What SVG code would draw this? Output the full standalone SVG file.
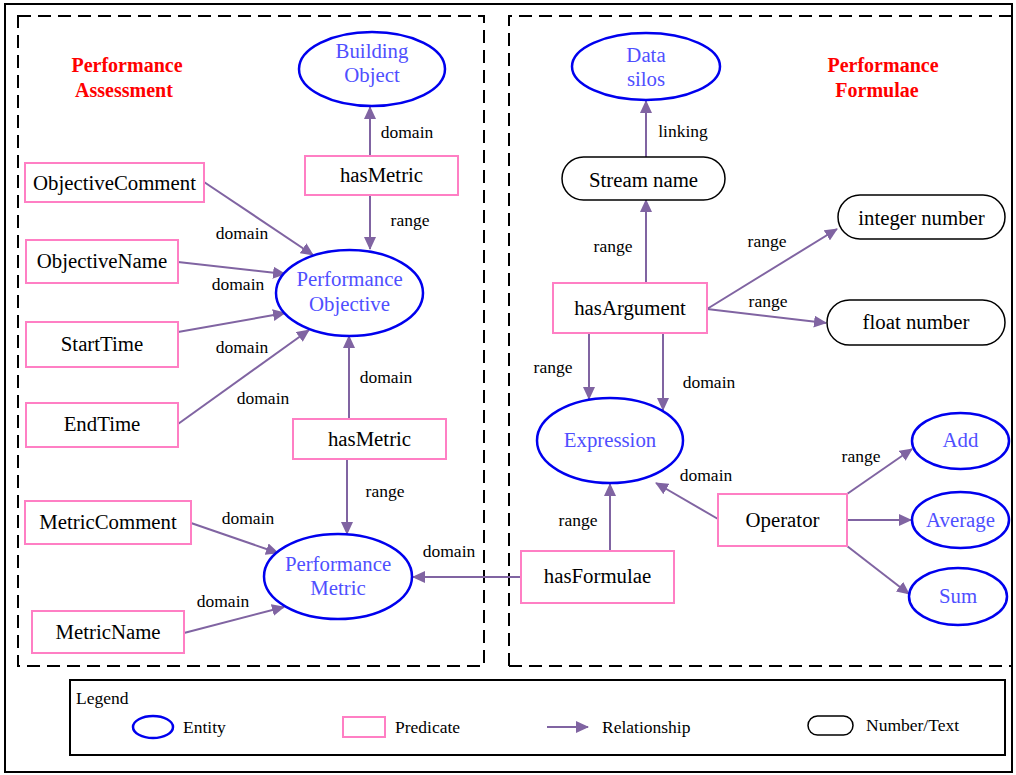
<svg xmlns="http://www.w3.org/2000/svg" width="1016" height="775" viewBox="0 0 1016 775" font-family="Times New Roman, Tinos, Liberation Serif, serif">
  <style>
    .frame { fill: none; stroke: #000; stroke-width: 2; }
    .dash { fill: none; stroke: #000; stroke-width: 2; stroke-dasharray: 13 7; }
    .ent { fill: #fff; stroke: #0000ee; stroke-width: 2.5; }
    .pred { fill: #fff; stroke: #ff7fc4; stroke-width: 2; }
    .num { fill: #fff; stroke: #000; stroke-width: 1.5; }
    .conn line { stroke: #8064a2; stroke-width: 2; marker-end: url(#arr); }
  </style>
  <defs>
    <marker id="arr" markerUnits="userSpaceOnUse" markerWidth="14" markerHeight="12" refX="12" refY="6" orient="auto">
      <path d="M0,0 L13,6 L0,12 Z" fill="#8064a2"/>
    </marker>
  </defs>

  <rect width="1016" height="775" fill="#fff"/>

  <!-- outer frame and section boxes -->
  <rect class="frame" x="5" y="4" width="1007" height="768"/>
  <rect class="dash" x="18" y="16" width="466" height="650"/>
  <path class="dash" d="M509,666 V16 H1012 M509,666 H1012"/>

  <text font-family="Times New Roman, Tinos, Liberation Serif, serif" font-size="20" font-weight="bold" fill="#ff0000" text-anchor="middle" x="127" y="72">Performance</text>
  <text font-family="Times New Roman, Tinos, Liberation Serif, serif" font-size="20" font-weight="bold" fill="#ff0000" text-anchor="middle" x="124" y="97">Assessment</text>
  <text font-family="Times New Roman, Tinos, Liberation Serif, serif" font-size="20" font-weight="bold" fill="#ff0000" text-anchor="middle" x="883" y="72">Performance</text>
  <text font-family="Times New Roman, Tinos, Liberation Serif, serif" font-size="20" font-weight="bold" fill="#ff0000" text-anchor="middle" x="877" y="97">Formulae</text>

  <!-- connectors -->
  <g id="connectors" class="conn">
    <line x1="370" y1="156" x2="370" y2="107"/>
    <line x1="370" y1="195" x2="370" y2="249"/>
    <line x1="204" y1="182" x2="313" y2="255"/>
    <line x1="178" y1="262" x2="285" y2="274"/>
    <line x1="178" y1="332" x2="285" y2="313"/>
    <line x1="178" y1="424" x2="309" y2="330"/>
    <line x1="349" y1="419" x2="349" y2="336"/>
    <line x1="347" y1="459" x2="347" y2="534"/>
    <line x1="191" y1="523" x2="278" y2="553"/>
    <line x1="184" y1="633" x2="284" y2="607"/>
    <line x1="521" y1="577" x2="413" y2="577"/>
    <line x1="646" y1="157" x2="646" y2="101"/>
    <line x1="646" y1="284" x2="646" y2="200"/>
    <line x1="707" y1="309" x2="837" y2="229"/>
    <line x1="707" y1="309" x2="826" y2="323"/>
    <line x1="589" y1="333" x2="589" y2="399"/>
    <line x1="663" y1="333" x2="663" y2="410"/>
    <line x1="610" y1="551" x2="610" y2="484"/>
    <line x1="718" y1="519" x2="656" y2="483"/>
    <line x1="847" y1="494" x2="912" y2="449"/>
    <line x1="847" y1="520" x2="911" y2="520"/>
    <line x1="847" y1="546" x2="909" y2="594"/>
  </g>

  <!-- connector labels -->
  <g id="labels" font-family="Times New Roman, Tinos, Liberation Serif, serif" font-size="17.5" text-anchor="middle">
    <text font-family="Times New Roman, Tinos, Liberation Serif, serif" x="407" y="138">domain</text>
    <text font-family="Times New Roman, Tinos, Liberation Serif, serif" x="410" y="226">range</text>
    <text font-family="Times New Roman, Tinos, Liberation Serif, serif" x="242" y="239">domain</text>
    <text font-family="Times New Roman, Tinos, Liberation Serif, serif" x="238" y="290">domain</text>
    <text font-family="Times New Roman, Tinos, Liberation Serif, serif" x="242" y="353">domain</text>
    <text font-family="Times New Roman, Tinos, Liberation Serif, serif" x="263" y="404">domain</text>
    <text font-family="Times New Roman, Tinos, Liberation Serif, serif" x="386" y="383">domain</text>
    <text font-family="Times New Roman, Tinos, Liberation Serif, serif" x="385" y="497">range</text>
    <text font-family="Times New Roman, Tinos, Liberation Serif, serif" x="248" y="524">domain</text>
    <text font-family="Times New Roman, Tinos, Liberation Serif, serif" x="223" y="607">domain</text>
    <text font-family="Times New Roman, Tinos, Liberation Serif, serif" x="449" y="557">domain</text>
    <text font-family="Times New Roman, Tinos, Liberation Serif, serif" x="683" y="137">linking</text>
    <text font-family="Times New Roman, Tinos, Liberation Serif, serif" x="613" y="252">range</text>
    <text font-family="Times New Roman, Tinos, Liberation Serif, serif" x="767" y="247">range</text>
    <text font-family="Times New Roman, Tinos, Liberation Serif, serif" x="768" y="307">range</text>
    <text font-family="Times New Roman, Tinos, Liberation Serif, serif" x="553" y="373">range</text>
    <text font-family="Times New Roman, Tinos, Liberation Serif, serif" x="709" y="388">domain</text>
    <text font-family="Times New Roman, Tinos, Liberation Serif, serif" x="578" y="526">range</text>
    <text font-family="Times New Roman, Tinos, Liberation Serif, serif" x="706" y="481">domain</text>
    <text font-family="Times New Roman, Tinos, Liberation Serif, serif" x="861" y="462">range</text>
  </g>

  <!-- entities -->
  <g id="building-object">
    <ellipse class="ent" cx="372" cy="69" rx="73" ry="37"/>
    <text font-family="Times New Roman, Tinos, Liberation Serif, serif" font-size="20.8" fill="#4f4fff" text-anchor="middle" x="372" y="58">Building</text>
    <text font-family="Times New Roman, Tinos, Liberation Serif, serif" font-size="20.8" fill="#4f4fff" text-anchor="middle" x="372" y="82">Object</text>
  </g>
  <g id="performance-objective">
    <ellipse class="ent" cx="349.5" cy="293" rx="73.5" ry="43"/>
    <text font-family="Times New Roman, Tinos, Liberation Serif, serif" font-size="20.8" fill="#4f4fff" text-anchor="middle" x="349.5" y="286">Performance</text>
    <text font-family="Times New Roman, Tinos, Liberation Serif, serif" font-size="20.8" fill="#4f4fff" text-anchor="middle" x="349.5" y="311">Objective</text>
  </g>
  <g id="performance-metric">
    <ellipse class="ent" cx="338" cy="576.5" rx="74" ry="42.5"/>
    <text font-family="Times New Roman, Tinos, Liberation Serif, serif" font-size="20.8" fill="#4f4fff" text-anchor="middle" x="338" y="571">Performance</text>
    <text font-family="Times New Roman, Tinos, Liberation Serif, serif" font-size="20.8" fill="#4f4fff" text-anchor="middle" x="338" y="595">Metric</text>
  </g>
  <g id="data-silos">
    <ellipse class="ent" cx="646" cy="66.5" rx="74" ry="33.5"/>
    <text font-family="Times New Roman, Tinos, Liberation Serif, serif" font-size="20.8" fill="#4f4fff" text-anchor="middle" x="646" y="62">Data</text>
    <text font-family="Times New Roman, Tinos, Liberation Serif, serif" font-size="20.8" fill="#4f4fff" text-anchor="middle" x="646" y="86">silos</text>
  </g>
  <g id="expression">
    <ellipse class="ent" cx="610" cy="440.5" rx="73" ry="42.5"/>
    <text font-family="Times New Roman, Tinos, Liberation Serif, serif" font-size="20.8" fill="#4f4fff" text-anchor="middle" x="610" y="447">Expression</text>
  </g>
  <g id="add">
    <ellipse class="ent" cx="960.5" cy="441" rx="48.5" ry="28"/>
    <text font-family="Times New Roman, Tinos, Liberation Serif, serif" font-size="20.8" fill="#4f4fff" text-anchor="middle" x="960.5" y="447">Add</text>
  </g>
  <g id="average">
    <ellipse class="ent" cx="960.5" cy="520" rx="48.5" ry="28"/>
    <text font-family="Times New Roman, Tinos, Liberation Serif, serif" font-size="20.8" fill="#4f4fff" text-anchor="middle" x="960.5" y="527">Average</text>
  </g>
  <g id="sum">
    <ellipse class="ent" cx="958" cy="596.5" rx="49" ry="28.5"/>
    <text font-family="Times New Roman, Tinos, Liberation Serif, serif" font-size="20.8" fill="#4f4fff" text-anchor="middle" x="958" y="603">Sum</text>
  </g>

  <!-- predicates -->
  <g id="hasMetric-top">
    <rect class="pred" x="305" y="156" width="153" height="39"/>
    <text font-family="Times New Roman, Tinos, Liberation Serif, serif" font-size="20.8" text-anchor="middle" x="381.5" y="182">hasMetric</text>
  </g>
  <g id="objective-comment">
    <rect class="pred" x="25" y="163" width="179" height="39"/>
    <text font-family="Times New Roman, Tinos, Liberation Serif, serif" font-size="20.8" text-anchor="middle" x="114.5" y="190">ObjectiveComment</text>
  </g>
  <g id="objective-name">
    <rect class="pred" x="26" y="240" width="152" height="43"/>
    <text font-family="Times New Roman, Tinos, Liberation Serif, serif" font-size="20.8" text-anchor="middle" x="102" y="268">ObjectiveName</text>
  </g>
  <g id="start-time">
    <rect class="pred" x="26" y="322" width="152" height="45"/>
    <text font-family="Times New Roman, Tinos, Liberation Serif, serif" font-size="20.8" text-anchor="middle" x="102" y="351">StartTime</text>
  </g>
  <g id="end-time">
    <rect class="pred" x="26" y="403" width="152" height="44"/>
    <text font-family="Times New Roman, Tinos, Liberation Serif, serif" font-size="20.8" text-anchor="middle" x="102" y="431">EndTime</text>
  </g>
  <g id="hasMetric-mid">
    <rect class="pred" x="293" y="419" width="153" height="40"/>
    <text font-family="Times New Roman, Tinos, Liberation Serif, serif" font-size="20.8" text-anchor="middle" x="369.5" y="446">hasMetric</text>
  </g>
  <g id="metric-comment">
    <rect class="pred" x="25" y="501" width="166" height="43"/>
    <text font-family="Times New Roman, Tinos, Liberation Serif, serif" font-size="20.8" text-anchor="middle" x="108" y="529">MetricComment</text>
  </g>
  <g id="metric-name">
    <rect class="pred" x="32" y="611" width="152" height="42"/>
    <text font-family="Times New Roman, Tinos, Liberation Serif, serif" font-size="20.8" text-anchor="middle" x="108" y="639">MetricName</text>
  </g>
  <g id="hasArgument">
    <rect class="pred" x="553" y="283" width="154" height="50"/>
    <text font-family="Times New Roman, Tinos, Liberation Serif, serif" font-size="20.8" text-anchor="middle" x="630" y="315">hasArgument</text>
  </g>
  <g id="operator">
    <rect class="pred" x="718" y="494" width="129" height="52"/>
    <text font-family="Times New Roman, Tinos, Liberation Serif, serif" font-size="20.8" text-anchor="middle" x="782.5" y="527">Operator</text>
  </g>
  <g id="hasFormulae">
    <rect class="pred" x="521" y="551" width="153" height="52"/>
    <text font-family="Times New Roman, Tinos, Liberation Serif, serif" font-size="20.8" text-anchor="middle" x="597.5" y="583">hasFormulae</text>
  </g>

  <!-- number / text values -->
  <g id="stream-name">
    <rect class="num" x="562" y="157" width="163" height="43" rx="21.5"/>
    <text font-family="Times New Roman, Tinos, Liberation Serif, serif" font-size="20.8" text-anchor="middle" x="643.5" y="187">Stream name</text>
  </g>
  <g id="integer-number">
    <rect class="num" x="838" y="195" width="167" height="44" rx="22"/>
    <text font-family="Times New Roman, Tinos, Liberation Serif, serif" font-size="20.8" text-anchor="middle" x="921.5" y="225">integer number</text>
  </g>
  <g id="float-number">
    <rect class="num" x="827" y="300" width="178" height="45" rx="22.5"/>
    <text font-family="Times New Roman, Tinos, Liberation Serif, serif" font-size="20.8" text-anchor="middle" x="916" y="329">float number</text>
  </g>

  <!-- legend -->
  <g id="legend">
    <rect class="frame" x="70" y="680" width="935" height="75"/>
    <text font-family="Times New Roman, Tinos, Liberation Serif, serif" font-size="17.5" x="76" y="704">Legend</text>
    <ellipse class="ent" cx="153" cy="727" rx="20" ry="11"/>
    <text font-family="Times New Roman, Tinos, Liberation Serif, serif" font-size="17.5" x="183" y="733">Entity</text>
    <rect class="pred" x="343" y="717" width="42" height="20"/>
    <text font-family="Times New Roman, Tinos, Liberation Serif, serif" font-size="17.5" x="395" y="733">Predicate</text>
    <line x1="547" y1="727" x2="588" y2="727" stroke="#8064a2" stroke-width="2" marker-end="url(#arr)"/>
    <text font-family="Times New Roman, Tinos, Liberation Serif, serif" font-size="17.5" x="602" y="733">Relationship</text>
    <rect class="num" x="808" y="716" width="45" height="19" rx="9.5"/>
    <text font-family="Times New Roman, Tinos, Liberation Serif, serif" font-size="17.5" x="866" y="731">Number/Text</text>
  </g>
</svg>
